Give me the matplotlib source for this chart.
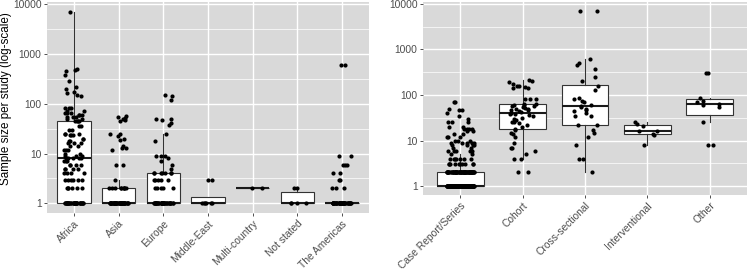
import matplotlib
matplotlib.use('Agg')

import matplotlib.pyplot as plt
import numpy as np
from matplotlib import cbook

plt.rcParams['font.family'] = ['Liberation Sans', 'DejaVu Sans']

# 左图：按地区
regions = ['Africa', 'Asia', 'Europe', 'Middle-East', 'Multi-country', 'Not stated', 'The Americas']

africa = ([1] * 34 + [2] * 6 + [3] * 6 + [4] * 4 + [5] * 4 + [6] * 4 + [7] * 3 + [8] * 5 +
          [9] * 3 + [10] * 2 + [12] * 3 + [14] * 2 + [16] * 3 + [18] * 2 + [20] * 2 + [23] * 3 +
          [25] * 3 + [30] * 2 + [35] * 2 + [45] * 4 +
          [50] * 2 + [55] * 3 + [60] * 3 + [65] * 3 + [70] * 2 + [80] * 3 +
          [140, 150, 160, 170, 200, 220, 290, 380, 450, 480, 500, 7000])
asia = ([1] * 46 + [2] * 9 +
        [3, 6, 6, 12, 13, 13, 14, 19, 20, 22, 25, 25, 45, 48, 50, 52, 55, 57])
europe = ([1] * 36 + [2] * 5 + [3] * 5 + [4] * 7 +
          [5, 6, 7, 8, 9, 9, 9, 18, 25, 38, 40, 48, 50, 50, 120, 145, 150])
middle_east = [1] * 6 + [3, 3]
multi_country = [2, 2]
not_stated = [1, 1, 1, 1, 2, 2]
americas = [1] * 43 + [2, 2, 2, 3, 3, 4, 4, 6, 6, 6, 9, 9, 600, 600]

region_data = [africa, asia, europe, middle_east, multi_country, not_stated, americas]

# 右图：按研究类型
designs = ['Case Report/Series', 'Cohort', 'Cross-sectional', 'Interventional', 'Other']

case_report = ([1] * 128 + [2] * 64 +
               [3] * 10 + [4] * 7 + [5] * 2 + [6] * 5 + [7] * 2 + [8] * 4 + [9] * 5 + [10] * 3 +
               [12] * 3 + [14] * 2 + [16] * 2 + [18] * 4 + [20] * 2 + [25] * 3 +
               [30, 35, 40, 48, 48, 50, 70, 70])
cohort = [2, 2, 4, 4, 5, 6, 7, 7, 9, 12, 14, 15, 17, 18, 20, 22, 24, 25, 26, 28, 30, 32,
          35, 36, 38, 39, 40, 42, 45, 46, 48, 50, 50, 52, 55, 56, 58, 60, 60, 62, 65,
          80, 80, 80, 140, 145, 150, 155, 160, 175, 190, 200, 210]
cross_sectional = [2, 4, 4, 8, 12, 15, 17, 22, 22, 35, 35, 40, 45, 47, 50, 55, 57, 60,
                   70, 75, 80, 85, 130, 160, 200, 250, 380, 450, 500, 620, 7000, 7000]
interventional = [8, 13, 14, 16, 16, 21, 23, 26]
other = [8, 8, 25, 55, 60, 65, 70, 75, 85, 300, 300]

design_data = [case_report, cohort, cross_sectional, interventional, other]

yticks = [1, 10, 100, 1000, 10000]

rng = np.random.default_rng(11)


def draw_panel(ax, labels, groups):
    ax.set_facecolor('#D9D9D9')
    ax.set_yscale('log')
    # 箱线图统计量按对数尺度计算（和 ggplot 的 scale_y_log10 一致）
    stats = []
    for g in groups:
        s = cbook.boxplot_stats(np.log10(g), whis=1.5)[0]
        for k in ['med', 'q1', 'q3', 'whislo', 'whishi', 'mean']:
            s[k] = 10 ** s[k]
        s['fliers'] = []
        stats.append(s)
    pos = np.arange(len(groups))
    ax.bxp(stats, positions=pos, widths=0.75, showfliers=False, patch_artist=True,
           boxprops=dict(facecolor='white', edgecolor='#333333', linewidth=0.8),
           medianprops=dict(color='#1a1a1a', linewidth=1.5),
           whiskerprops=dict(color='#333333', linewidth=0.8),
           capprops=dict(linewidth=0), zorder=2)
    # 抖动散点
    for i, g in enumerate(groups):
        xs = i + rng.uniform(-0.22, 0.22, len(g))
        ax.scatter(xs, g, s=9, color='black', linewidths=0, zorder=3)

    lo, hi = 0, np.log10(7000)
    pad = (hi - lo) * 0.05
    ax.set_xlim(-0.6, len(groups) - 0.4)
    ax.set_yticks(yticks)
    ax.set_yticklabels([str(t) for t in yticks])
    ax.set_yticks([10 ** (k + 0.5) for k in range(-1, 5)], minor=True)
    ax.yaxis.set_minor_formatter(plt.NullFormatter())
    ax.set_xticks(pos)
    ax.set_xticklabels(labels, rotation=45, ha='right', rotation_mode='anchor')
    ax.grid(True, which='major', color='white', linewidth=1.0, zorder=0)
    ax.grid(True, which='minor', axis='y', color='white', linewidth=0.5, zorder=0)
    ax.set_axisbelow(True)
    for sp in ax.spines.values():
        sp.set_visible(False)
    ax.tick_params(which='major', length=2.5, width=0.6, color='#333333',
                   labelsize=7.4, labelcolor='#4D4D4D', pad=1.5)
    ax.tick_params(which='minor', length=0)
    ax.set_ylim(10 ** (lo - pad), 10 ** (hi + pad))


fig = plt.figure(figsize=(7.47, 2.71), dpi=100)
ax1 = fig.add_axes([47 / 747, 1 - 213 / 271, 322 / 747, 211 / 271])
ax2 = fig.add_axes([423 / 747, 1 - 195 / 271, 324 / 747, 193 / 271])

draw_panel(ax1, regions, region_data)
draw_panel(ax2, designs, design_data)

# y 轴标题（放在图左边缘，避免被裁掉）
fig.text(6 / 747, 1 - 99 / 271, 'Sample size per study (log-scale)', fontsize=8.4,
         color='black', rotation=90, ha='center', va='center')

fig.savefig('out.png', dpi=100)
